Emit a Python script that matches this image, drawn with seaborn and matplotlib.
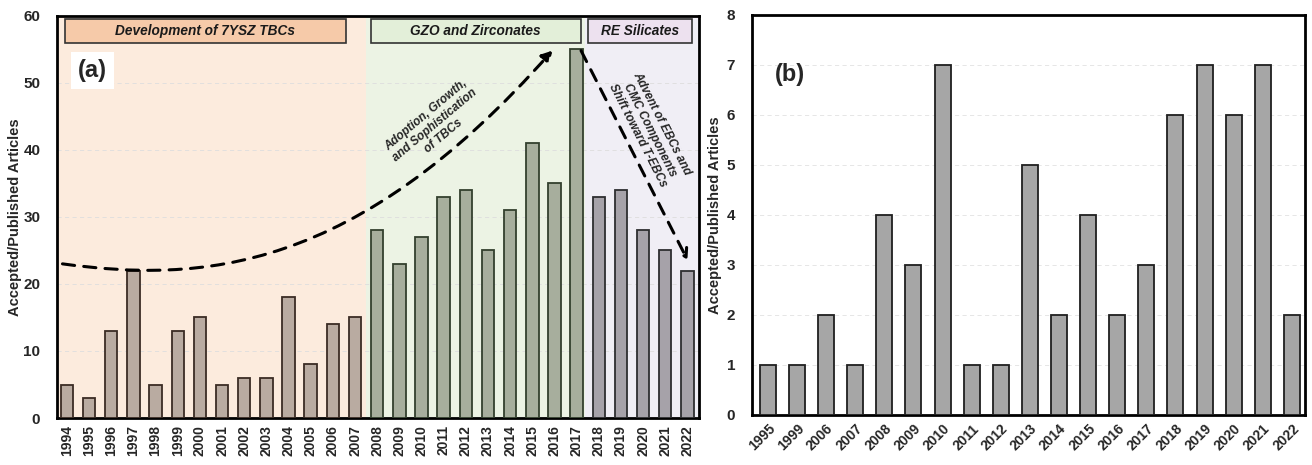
import numpy as np
import pandas as pd
import matplotlib
matplotlib.use("Agg")
import matplotlib.pyplot as plt
from matplotlib.path import Path
from matplotlib.patches import FancyArrowPatch, Rectangle
from matplotlib.ticker import MultipleLocator
import seaborn as sns

# ---- data -------------------------------------------------------------
years_a = [str(y) for y in range(1994, 2023)]
counts_a = [5, 3, 13, 22, 5, 13, 15, 5, 6, 6, 18, 8, 14, 15,
            28, 23, 27, 33, 34, 25, 31, 41, 35, 55,
            33, 34, 28, 25, 22]
era_names = ["Development of 7YSZ TBCs", "GZO and Zirconates", "RE Silicates"]
era_a = [era_names[0]] * 14 + [era_names[1]] * 10 + [era_names[2]] * 5

years_b = ["1995", "1999", "2006", "2007", "2008", "2009", "2010", "2011", "2012",
           "2013", "2014", "2015", "2016", "2017", "2018", "2019", "2020", "2021", "2022"]
counts_b = [1, 1, 2, 1, 4, 3, 7, 1, 1, 5, 2, 4, 2, 3, 6, 7, 6, 7, 2]

# ---- style ------------------------------------------------------------
sns.set_theme(style="white")
plt.rcParams["font.family"] = ["Liberation Sans", "DejaVu Sans"]
plt.rcParams["font.weight"] = "bold"

bar_fill = {era_names[0]: "#b9aba1", era_names[1]: "#a7ae9d", era_names[2]: "#a6a2a9"}
bar_edge = {era_names[0]: "#3b2c24", era_names[1]: "#33402e", era_names[2]: "#2e2e30"}
band_fill = {era_names[0]: "#fcebdd", era_names[1]: "#ecf3e4", era_names[2]: "#f0eef5"}
head_fill = {era_names[0]: "#f6caa9", era_names[1]: "#e3efd9", era_names[2]: "#ede1ef"}

fig = plt.figure(figsize=(13.12, 4.65), dpi=100)
ax1 = fig.add_axes([0.0434, 0.101, 0.489, 0.865])
ax2 = fig.add_axes([0.573, 0.108, 0.4217, 0.86])

df_a = pd.DataFrame({"year": years_a, "count": counts_a, "era": era_a})

# era background bands and header boxes
band_spans = [(-0.45, 13.5), (13.5, 23.4), (23.4, 28.5)]
head_spans = [(-0.1, 12.6), (13.7, 23.2), (23.5, 28.2)]
for name, (x0, x1), (h0, h1) in zip(era_names, band_spans, head_spans):
    ax1.axvspan(x0, x1, color=band_fill[name], zorder=0, lw=0)
    ax1.add_patch(Rectangle((h0, 56.0), h1 - h0, 3.55, facecolor=head_fill[name],
                            edgecolor="#333333", lw=1.2, zorder=4))
    ax1.text((h0 + h1) / 2, 57.8, name, ha="center", va="center", fontsize=9.8,
             fontweight="bold", style="italic", color="#1a1a1a", zorder=5)

for name in era_names:
    sub = df_a[df_a["era"] == name]
    sns.barplot(data=sub, x="year", y="count", order=years_a, ax=ax1,
                color=bar_fill[name], saturation=1, width=0.56,
                edgecolor=bar_edge[name], linewidth=1.3, zorder=3)

ax1.set_xlim(-0.45, 28.5)
ax1.set_ylim(0, 60)
ax1.yaxis.set_major_locator(MultipleLocator(10))
ax1.yaxis.set_minor_locator(MultipleLocator(1))
ax1.grid(axis="y", color="#dddddd", ls=(0, (5, 4)), lw=0.6, zorder=1)
ax1.set_axisbelow(True)

# trend arrows
curve = Path([(-0.2, 23.0), (6.0, 20.2), (13.0, 21.5), (21.9, 54.8)],
             [Path.MOVETO, Path.CURVE4, Path.CURVE4, Path.CURVE4])
ax1.add_patch(FancyArrowPatch(path=curve, arrowstyle="-|>,head_length=6,head_width=3.5",
                              color="black", lw=2.2, ls=(0, (4, 3)), zorder=6))
ax1.add_patch(FancyArrowPatch((23.2, 54.8), (28.0, 23.6),
                              arrowstyle="->,head_length=6,head_width=3.5",
                              color="black", lw=2.2, ls=(0, (4, 3)), zorder=6,
                              shrinkA=0, shrinkB=0))
ax1.text(16.6, 43.6, "Adoption, Growth,\nand Sophistication\nof TBCs", rotation=40,
         ha="center", va="center", fontsize=8.6, fontweight="bold", style="italic",
         linespacing=1.15, rotation_mode="anchor", zorder=6)
ax1.text(26.3, 43.0, "Advent of EBCs and\nCMC Components\nShift toward T-EBCs", rotation=-63,
         ha="center", va="center", fontsize=8.6, fontweight="bold", style="italic",
         linespacing=1.15, rotation_mode="anchor", zorder=6)

ax1.text(1.17, 51.8, "(a)", ha="center", va="center", fontsize=17, fontweight="bold",
         zorder=6, bbox=dict(boxstyle="square,pad=0.3", facecolor="white", edgecolor="none"))

# ---- panel (b) --------------------------------------------------------
sns.barplot(x=years_b, y=counts_b, ax=ax2, color="#a6a6a6", saturation=1, width=0.55,
            edgecolor="#1f1f1f", linewidth=1.3, zorder=3)
ax2.set_xlim(-0.55, 18.45)
ax2.set_ylim(0, 8)
ax2.yaxis.set_major_locator(MultipleLocator(1))
ax2.yaxis.set_minor_locator(MultipleLocator(0.1))
ax2.grid(axis="y", color="#e2e2e2", ls=(0, (5, 4)), lw=0.6, zorder=1)
ax2.set_axisbelow(True)
ax2.text(0.75, 6.8, "(b)", ha="center", va="center", fontsize=17, fontweight="bold")

for ax in (ax1, ax2):
    ax.set_xlabel("")
    ax.set_ylabel("Accepted/Published Articles", fontsize=10.5, fontweight="bold")
    for s in ax.spines.values():
        s.set_visible(True)
        s.set_color("black")
        s.set_linewidth(2.0)
    ax.tick_params(axis="y", which="major", direction="in", length=4, width=1.3,
                   labelsize=11, pad=12)
    ax.tick_params(axis="y", which="minor", direction="in", length=2.5, width=1.0)
    ax.tick_params(axis="x", which="both", length=0, pad=5)
    for lbl in ax.get_yticklabels():
        lbl.set_fontweight("bold")

ax1.yaxis.labelpad = 1
ax2.yaxis.labelpad = 3
ax1.set_xticks(range(len(years_a)))
ax1.set_xticklabels(years_a, rotation=90, fontsize=10, fontweight="bold")
ax2.set_xticks(range(len(years_b)))
ax2.set_xticklabels(years_b, rotation=45, ha="right", rotation_mode="anchor",
                    fontsize=10, fontweight="bold")

fig.savefig("out.png", dpi=100)
